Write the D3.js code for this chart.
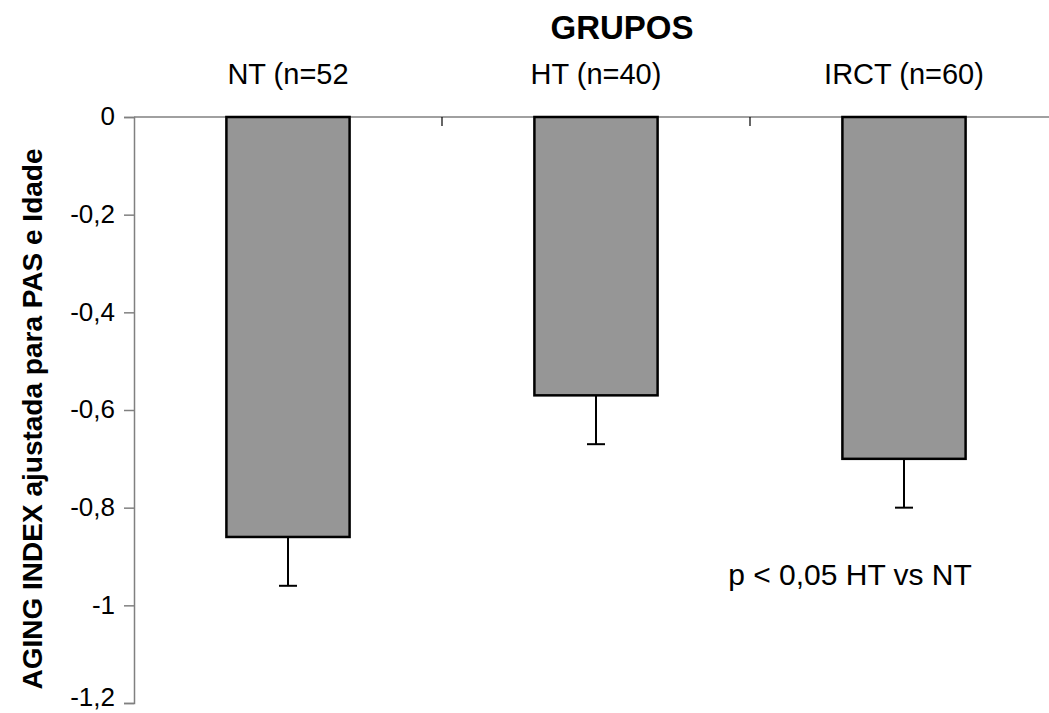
<!DOCTYPE html>
<html>
<head>
<meta charset="utf-8">
<script src="https://cdn.jsdelivr.net/npm/d3@7"></script>
<style>
  body { margin: 0; background: #fff; }
  text { font-family: "Liberation Sans", Arial, sans-serif; fill: #000; }
</style>
</head>
<body>
<div id="chart"></div>
<script>
// data
const groups = ["NT (n=52", "HT (n=40)", "IRCT (n=60)"];
const means = [-0.86, -0.57, -0.70];
const errors = [0.10, 0.10, 0.10];
const yTicks = [0, -0.2, -0.4, -0.6, -0.8, -1, -1.2];

const width = 1049, height = 713;
const margin = {top: 117, right: -9, bottom: 10, left: 134};

let svg = d3.select("#chart")
    .append("svg")
    .attr("width", width)
    .attr("height", height);

let g = svg.append("g")
    .attr("transform", `translate(${margin.left}, ${margin.top})`);

let plotW = width - margin.left - margin.right;

let x = d3.scaleBand()
    .domain(groups)
    .range([0, plotW])
    .paddingInner(0.6)
    .paddingOuter(0.3);

// category boundaries for the tick marks on the zero line
let xb = d3.scaleLinear().domain([0, groups.length]).range([0, plotW]);

let y = d3.scaleLinear()
    .domain([0, -1.2])
    .range([0, 586]);

function fmt(d) {
    if (d === 0) return "0";
    return ("-" + d3.format(".1f")(Math.abs(d)).replace(".", ",")).replace(/,0$/, "");
}

// y axis
let yAxis = g.append("g")
    .call(d3.axisLeft(y).tickValues(yTicks).tickSize(10).tickPadding(9).tickFormat(fmt));
yAxis.select(".domain").attr("stroke", "#808080").attr("stroke-width", 1.5);
yAxis.selectAll(".tick line").attr("stroke", "#808080").attr("stroke-width", 1.5);
yAxis.selectAll(".tick text")
    .style("font-size", "26px")
    .style("font-family", "'Liberation Sans', Arial, sans-serif")
    .attr("dy", (d, i) => i === yTicks.length - 1 ? "0.1em" : "0.3em")
    .attr("fill", "#000");

// zero line (category axis)
g.append("line")
    .attr("x1", 0).attr("x2", plotW)
    .attr("y1", y(0)).attr("y2", y(0))
    .attr("stroke", "#808080").attr("stroke-width", 1.5);

g.selectAll(".cat-tick")
    .data(d3.range(1, groups.length))
    .enter()
    .append("line")
    .attr("class", "cat-tick")
    .attr("x1", d => xb(d)).attr("x2", d => xb(d))
    .attr("y1", y(0)).attr("y2", y(0) + 9)
    .attr("stroke", "#000").attr("stroke-width", 1.2);

// error bars (drawn below mean)
let errG = g.selectAll(".err").data(groups).enter().append("g").attr("class", "err");
errG.append("line")
    .attr("x1", d => x(d) + x.bandwidth() / 2)
    .attr("x2", d => x(d) + x.bandwidth() / 2)
    .attr("y1", (d, i) => y(means[i]))
    .attr("y2", (d, i) => y(means[i] - errors[i]))
    .attr("stroke", "#000").attr("stroke-width", 2);
errG.append("line")
    .attr("x1", d => x(d) + x.bandwidth() / 2 - 9)
    .attr("x2", d => x(d) + x.bandwidth() / 2 + 9)
    .attr("y1", (d, i) => y(means[i] - errors[i]))
    .attr("y2", (d, i) => y(means[i] - errors[i]))
    .attr("stroke", "#000").attr("stroke-width", 2);

// bars
g.selectAll(".bar")
    .data(groups)
    .enter()
    .append("rect")
    .attr("class", "bar")
    .attr("x", d => x(d))
    .attr("y", y(0))
    .attr("width", x.bandwidth())
    .attr("height", (d, i) => y(means[i]) - y(0))
    .attr("fill", "#969696")
    .attr("stroke", "#000")
    .attr("stroke-width", 2.5);

// category labels above the zero line
g.selectAll(".cat-label")
    .data(groups)
    .enter()
    .append("text")
    .attr("class", "cat-label")
    .attr("x", d => x(d) + x.bandwidth() / 2)
    .attr("y", -33)
    .style("text-anchor", "middle")
    .style("font-size", "29px")
    .text(d => d);

// axis title on top
svg.append("text")
    .attr("x", 622)
    .attr("y", 39)
    .style("text-anchor", "middle")
    .style("font-size", "33px")
    .style("font-weight", "bold")
    .text("GRUPOS");

// y axis title
svg.append("text")
    .attr("transform", `translate(42, 419) rotate(-90)`)
    .style("text-anchor", "middle")
    .style("font-size", "28px")
    .style("font-weight", "bold")
    .text("AGING INDEX ajustada para PAS e Idade");

// annotation
svg.append("text")
    .attr("x", 850)
    .attr("y", 585)
    .style("text-anchor", "middle")
    .style("font-size", "30px")
    .text("p < 0,05 HT vs NT");
</script>
</body>
</html>
